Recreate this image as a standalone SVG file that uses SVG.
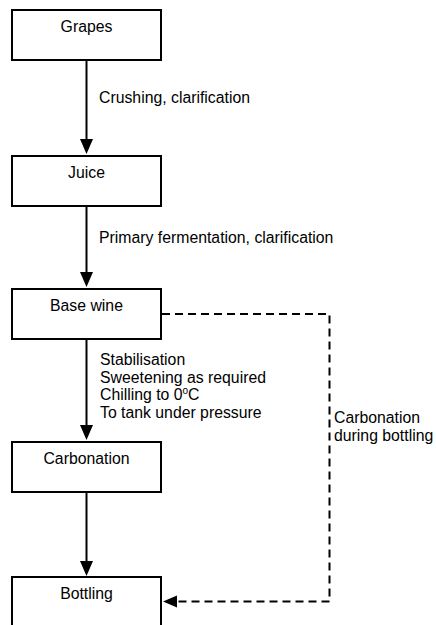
<svg xmlns="http://www.w3.org/2000/svg" width="436" height="625" viewBox="0 0 436 625">
<style>
.box{fill:#fff;stroke:#000;stroke-width:2}
.t{font-family:"Liberation Sans",Arial,sans-serif;font-size:15.8px;fill:#000}
.c{text-anchor:middle}
.ln{stroke:#000;stroke-width:2;fill:none}
.dash{stroke:#000;stroke-width:2;fill:none;stroke-dasharray:8 5}
.ah{fill:#000}
</style>
<rect width="436" height="625" fill="#fff"/>
<g id="connectors">
<line class="ln" x1="86.5" y1="60" x2="86.5" y2="140"/>
<polygon class="ah" points="80,139 93,139 86.5,154"/>
<line class="ln" x1="86.5" y1="206" x2="86.5" y2="273"/>
<polygon class="ah" points="80,272 93,272 86.5,287"/>
<line class="ln" x1="86.5" y1="339" x2="86.5" y2="426"/>
<polygon class="ah" points="80,425 93,425 86.5,440"/>
<line class="ln" x1="86.5" y1="492" x2="86.5" y2="562"/>
<polygon class="ah" points="80,561 93,561 86.5,576"/>
<path class="dash" d="M162,314 H329.5 V601.5 H176"/>
<polygon class="ah" points="177,595.5 177,607.5 163,601.5"/>
<text class="t" x="99" y="103">Crushing, clarification</text>
<text class="t" x="99" y="243">Primary fermentation, clarification</text>
<text class="t" x="100" y="365">Stabilisation</text>
<text class="t" x="100" y="382.5">Sweetening as required</text>
<text class="t" x="100" y="400">Chilling to 0<tspan font-size="10" dy="-6">o</tspan><tspan dy="6">C</tspan></text>
<text class="t" x="100" y="417.5">To tank under pressure</text>
<text class="t" x="334" y="423">Carbonation</text>
<text class="t" x="334" y="441">during bottling</text>
</g>
<g id="grapes"><rect class="box" x="12" y="10" width="149" height="50"/><text class="t c" x="86.5" y="32">Grapes</text></g>
<g id="juice"><rect class="box" x="12" y="156" width="149" height="50"/><text class="t c" x="86.5" y="178">Juice</text></g>
<g id="basewine"><rect class="box" x="12" y="289" width="149" height="50"/><text class="t c" x="86.5" y="311">Base wine</text></g>
<g id="carbonation"><rect class="box" x="12" y="442" width="149" height="50"/><text class="t c" x="86.5" y="464">Carbonation</text></g>
<g id="bottling"><rect class="box" x="12" y="577" width="149" height="60"/><text class="t c" x="86.5" y="599">Bottling</text></g>
</svg>
